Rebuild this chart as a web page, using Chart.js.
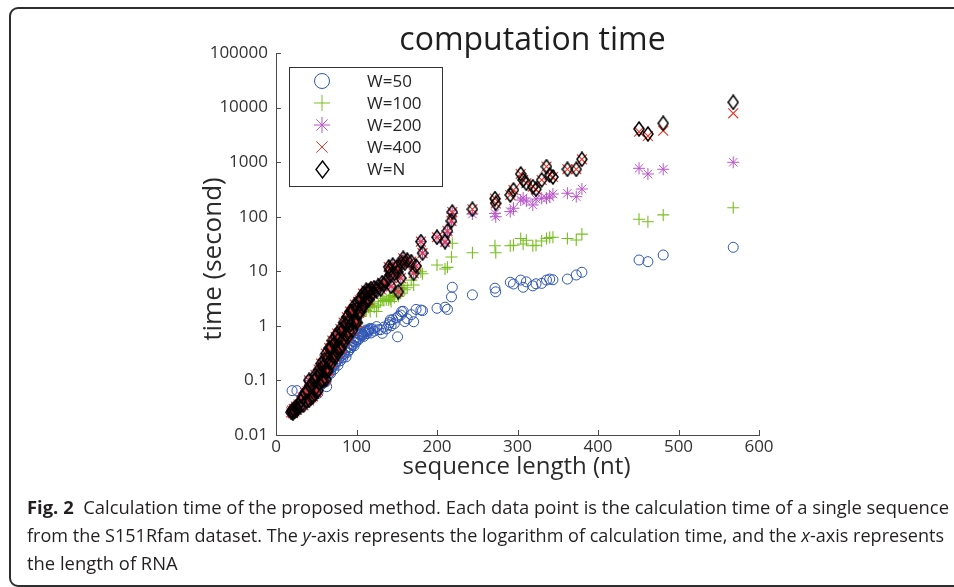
<!DOCTYPE html>
<html>
<head>
<meta charset="utf-8">
<script src="https://cdn.jsdelivr.net/npm/chart.js@4.4.0/dist/chart.umd.min.js"></script>
<style>
html,body{margin:0;padding:0;background:#fff;width:954px;height:587px;overflow:hidden;}
#frame{position:absolute;left:9px;top:7px;width:1000px;height:580px;border:2px solid #2e2e2e;border-radius:9px;box-sizing:border-box;}
#wrap{position:absolute;left:0;top:0;width:954px;height:587px;}
.cap{position:absolute;left:27px;white-space:nowrap;font-family:'Open Sans',sans-serif;font-size:18.5px;color:#231f20;transform-origin:0 0;line-height:28px;}
</style>
</head>
<body>
<div id="frame"></div>
<div id="wrap"><canvas id="c" width="954" height="587"></canvas></div>
<div class="cap" id="l1" style="top:493px"><b>Fig. 2</b>&nbsp; Calculation time of the proposed method. Each data point is the calculation time of a single sequence</div>
<div class="cap" id="l2" style="top:521px">from the S151Rfam dataset. The <i>y</i>-axis represents the logarithm of calculation time, and the <i>x</i>-axis represents</div>
<div class="cap" id="l3" style="top:549px">the length of RNA</div>
<script>
// ---- data (sequence length in nt, calculation time in seconds) ----
const lengths = [
  19,20,21,22,23,25,26,28,30,31,
  33,34,36,38,39,41,41,42,44,45,
  46,47,48,49,50,51,52,53,54,55,
  56,57,58,59,60,61,62,62,63,64,
  65,66,67,68,69,70,71,72,73,74,
  75,76,77,78,79,80,81,82,83,84,
  85,86,87,88,89,90,91,92,93,94,
  95,96,97,98,99,100,101,102,103,104,
  105,106,107,108,109,110,111,112,113,114,
  115,116,117,118,120,122,125,127,130,132,
  134,137,140,141,142,143,145,147,150,151,
  152,155,156,158,160,163,168,171,174,180,
  182,200,210,213,218,219,244,272,273,291,
  295,304,307,311,319,323,330,336,340,344,
  362,373,380,451,462,481,568
];
const timeW50 = [
  .026,.065,.025,.030,.027,.033,.065,.036,.033,.042,
  .049,.035,.059,.042,.063,.043,.10,.079,.049,.081,
  .051,.10,.068,.126,.060,.10,.058,.12,.08,.10,
  .13,.085,.12,.09,.14,.11,.095,.10,.077,.15,
  .13,.16,.14,.135,.17,.19,.18,.16,.21,.20,
  .22,.27,.19,.25,.30,.23,.28,.33,.26,.31,
  .30,.36,.27,.40,.33,.42,.36,.47,.40,.45,
  .44,.52,.43,.60,.50,.56,.62,.55,.70,.60,
  .68,.73,.66,.70,.64,.76,.80,.84,.72,.78,
  .82,.86,.90,.74,.88,.80,.97,.85,.85,.73,
  .95,.88,1.05,1.15,1.28,1.0,1.3,1.1,1.4,.63,
  1.5,1.58,1.82,1.85,1.2,1.35,1.6,1.19,2.0,1.95,
  1.9,2.1,2.2,2.0,3.4,5.1,3.7,4.9,4.2,6.3,
  5.85,6.9,5.1,6.4,5.4,5.9,6.0,6.9,7.2,7.0,
  7.2,8.55,9.6,16.1,15,19.9,27.5
];
const timeW100 = [
  .026,.028,.025,.030,.027,.033,.029,.036,.033,.042,
  .049,.035,.059,.042,.063,.043,.10,.079,.049,.081,
  .051,.10,.068,.126,.060,.115,.065,.158,.089,.135,
  .204,.098,.178,.10,.24,.151,.31,.105,.148,.25,
  .151,.39,.229,.39,.209,.537,.275,.468,.263,.63,
  .35,.72,.32,.575,.39,.87,.39,.81,.55,1.15,
  .51,1.07,.69,1.45,.62,1.17,.79,1.82,1.07,1.82,
  .83,1.95,1.17,2.45,1.15,2.04,1.1,1.6,1.5,1.7,
  1.5,1.6,1.9,2.0,1.8,2.1,2.2,1.9,2.3,2.4,
  2.2,2.5,1.83,2.3,2.6,2.2,1.83,2.4,2.77,3.2,
  2.9,3.0,2.98,3.4,3.1,2.8,3.6,3.3,4.2,3.8,
  3.5,3.95,4.9,5.5,4.6,5.0,6.9,5.6,9.8,9.8,
  9.0,13,11,11.8,18.3,32.6,21.9,29.4,21.9,29.4,
  30,40,31.6,37,29.4,30,35.9,40,41.6,42,
  40,37.5,48,89.7,81,108,146
];
const timeW200 = [
  .026,.028,.025,.030,.027,.033,.029,.036,.033,.042,
  .049,.035,.059,.042,.063,.043,.10,.079,.049,.081,
  .051,.10,.068,.126,.060,.115,.065,.158,.089,.135,
  .204,.098,.178,.10,.24,.151,.31,.105,.148,.25,
  .151,.39,.229,.39,.209,.537,.275,.468,.263,.63,
  .35,.72,.32,.575,.39,.87,.39,.81,.55,1.15,
  .51,1.07,.69,1.45,.62,1.17,.79,1.82,1.07,1.82,
  .83,1.95,1.17,2.45,1.15,2.04,1.15,2.75,1.74,2.95,
  1.82,3.1,2.19,3.9,2.34,3.63,2.82,4.47,2.95,4.37,
  3.0,4.3,3.6,4.8,3.9,5.0,4.4,5.4,4.7,6.2,
  5.8,6.5,12,10.5,8.5,5.3,13,9.0,12,9.8,
  4.2,7.5,14,17.3,14,16,15,9.2,12.5,35,
  21.5,42,33,52,80,115,112,115,100,124,
  143,202,220,194,164,211,218,218,230,261,
  269,233,322,771,607,740,994
];
const timeW400 = [
  .026,.028,.025,.030,.027,.033,.029,.036,.033,.042,
  .049,.035,.059,.042,.063,.043,.10,.079,.049,.081,
  .051,.10,.068,.126,.060,.115,.065,.158,.089,.135,
  .204,.098,.178,.10,.24,.151,.31,.105,.148,.25,
  .151,.39,.229,.39,.209,.537,.275,.468,.263,.63,
  .35,.72,.32,.575,.39,.87,.39,.81,.55,1.15,
  .51,1.07,.69,1.45,.62,1.17,.79,1.82,1.07,1.82,
  .83,1.95,1.17,2.45,1.15,2.04,1.15,2.75,1.74,2.95,
  1.82,3.1,2.19,3.9,2.34,3.63,2.82,4.47,2.95,4.37,
  3.0,4.3,3.6,4.8,3.9,5.0,4.4,5.4,4.7,6.2,
  5.8,6.5,12,10.5,8.5,5.3,13,9.0,12,9.8,
  4.2,7.5,14,17.3,14,16,15,9.2,12.5,35,
  21.5,42,35,55,84,122,137,214,176,250,
  309,607,471,410,355,318,471,826,582,535,
  740,740,1128,3610,3015,3770,7850
];
const timeWN = [
  .026,.028,.025,.030,.027,.033,.029,.036,.033,.042,
  .049,.035,.059,.042,.063,.043,.10,.079,.049,.081,
  .051,.10,.068,.126,.060,.115,.065,.158,.089,.135,
  .204,.098,.178,.10,.24,.151,.31,.105,.148,.25,
  .151,.39,.229,.39,.209,.537,.275,.468,.263,.63,
  .35,.72,.32,.575,.39,.87,.39,.81,.55,1.15,
  .51,1.07,.69,1.45,.62,1.17,.79,1.82,1.07,1.82,
  .83,1.95,1.17,2.45,1.15,2.04,1.15,2.75,1.74,2.95,
  1.82,3.1,2.19,3.9,2.34,3.63,2.82,4.47,2.95,4.37,
  3.0,4.3,3.6,4.8,3.9,5.0,4.4,5.4,4.7,6.2,
  5.8,6.5,12,10.5,8.5,5.3,13,9.0,12,9.8,
  4.2,7.5,14,17.3,14,16,15,9.2,12.5,35,
  21.5,42,35,55,84,122,137,214,176,250,
  309,607,471,410,355,318,471,826,582,535,
  740,740,1128,4050,3280,5150,12500
];
const seriesNames = ['W=50','W=100','W=200','W=400','W=N'];
const xTicks = [0,100,200,300,400,500,600];
const yTicks = [0.01,0.1,1,10,100,1000,10000,100000];
const yTickLabels = ['0.01','0.1','1','10','100','1000','10000','100000'];
const chartTitle = 'computation time';
const xTitle = 'sequence length (nt)';
const yTitle = 'time (second)';

// ---- chart ----
const FONT = "'Open Sans', sans-serif";
function pts(arr){ return lengths.map((L,i)=>({x:L, y:arr[i]})); }

// tall diamond marker (MATLAB style), drawn on a small canvas
function diamond(w, h, color, lw){
  const c = document.createElement('canvas');
  c.width = w; c.height = h;
  const g = c.getContext('2d');
  g.strokeStyle = color; g.lineWidth = lw;
  g.lineJoin = 'miter';
  g.beginPath();
  g.moveTo(w/2, 1); g.lineTo(w - 1, h/2); g.lineTo(w/2, h - 1); g.lineTo(1, h/2);
  g.closePath(); g.stroke();
  return c;
}
const styles = [
  {color:'#2f55b3', pointStyle:'circle',   radius:5,   bw:1,   legendStyle:'circle',   legendRadius:7.5, order:4},
  {color:'#78c01e', pointStyle:'cross',    radius:6,   bw:1.1, legendStyle:'cross',    legendRadius:8,   order:3},
  {color:'#b956c9', pointStyle:'star',     radius:6,   bw:1,   legendStyle:'star',     legendRadius:8,   order:2},
  {color:'#ee3328', pointStyle:'crossRot', radius:7,   bw:1.1, legendStyle:'crossRot', legendRadius:8,   order:1},
  {color:'#000000', pointStyle:diamond(12,16,'#000',1.5), radius:7, bw:1, legendStyle:diamond(15,19,'#000',1.4), legendRadius:8, order:0}
];
const seriesData = [timeW50, timeW100, timeW200, timeW400, timeWN];
const datasets = seriesData.map((arr,i)=>({
  label: seriesNames[i],
  data: pts(arr),
  showLine:false,
  pointStyle: styles[i].pointStyle,
  pointRadius: styles[i].radius,
  pointHoverRadius: styles[i].radius,
  pointBorderColor: styles[i].color,
  pointBackgroundColor: 'rgba(0,0,0,0)',
  pointBorderWidth: styles[i].bw,
  borderColor: styles[i].color,
  backgroundColor: 'rgba(0,0,0,0)',
  order: styles[i].order,
  legendStyle: styles[i].legendStyle,
  legendRadius: styles[i].legendRadius
}));

const inwardTicks = {
  id:'inwardTicks',
  afterDraw(chart){
    const {ctx, chartArea:a, scales} = chart;
    ctx.save();
    ctx.strokeStyle = '#4a4a4a';
    ctx.lineWidth = 1;
    ctx.beginPath();
    yTicks.forEach(v=>{
      const y = Math.round(scales.y.getPixelForValue(v)) + 0.5;
      ctx.moveTo(a.left, y); ctx.lineTo(a.left + 5, y);
    });
    xTicks.forEach(v=>{
      const x = Math.round(scales.x.getPixelForValue(v)) + 0.5;
      ctx.moveTo(x, a.bottom); ctx.lineTo(x, a.bottom - 5);
    });
    ctx.stroke();
    ctx.restore();
  }
};

const texts = {
  id:'texts',
  afterDraw(chart){
    const {ctx, chartArea:a} = chart;
    ctx.save();
    ctx.fillStyle = '#1e1e1e';
    ctx.textAlign = 'center';
    ctx.textBaseline = 'alphabetic';
    ctx.font = '32px ' + FONT;
    ctx.fillText(chartTitle, (a.left + a.right)/2 + 15, a.top - 3);
    ctx.fillStyle = '#2a2a2a';
    ctx.font = '24px ' + FONT;
    ctx.fillText(xTitle, (a.left + a.right)/2 - 1, a.bottom + 39);
    ctx.translate(a.left - 62, (a.top + a.bottom)/2 + 15);
    ctx.rotate(-Math.PI/2);
    ctx.font = '26px ' + FONT;
    ctx.textBaseline = 'middle';
    ctx.fillText(yTitle, 0, 0);
    ctx.restore();
  }
};

function drawMarker(ctx, style, r, x, y){
  if (Chart.helpers && Chart.helpers.drawPoint) {
    ctx.beginPath();
    Chart.helpers.drawPoint(ctx, {pointStyle:style, radius:r, rotation:0, borderWidth:1}, x, y);
  }
}

const boxLegend = {
  id:'boxLegend',
  afterDraw(chart){
    const {ctx, chartArea:a} = chart;
    const bx = a.left + 13, by = a.top + 14, bw = 153, bh = 119;
    ctx.save();
    ctx.fillStyle = '#fff';
    ctx.fillRect(bx, by, bw, bh);
    ctx.strokeStyle = '#333';
    ctx.lineWidth = 1;
    ctx.strokeRect(bx + 0.5, by + 0.5, bw, bh);
    chart.data.datasets.forEach((ds,i)=>{
      const cy = by + 14 + i*22;
      ctx.strokeStyle = ds.pointBorderColor;
      ctx.fillStyle = 'rgba(0,0,0,0)';
      ctx.lineWidth = 1;
      drawMarker(ctx, ds.legendStyle, ds.legendRadius, Math.round(bx + 33) + (typeof ds.legendStyle === 'string' ? 0 : 0.5), cy + (typeof ds.legendStyle === 'string' ? 0 : 0.5));
      ctx.fillStyle = '#262626';
      ctx.font = '17px ' + FONT;
      ctx.textAlign = 'left';
      ctx.textBaseline = 'middle';
      ctx.fillText(ds.label, bx + 78, cy + 1);
    });
    ctx.restore();
  }
};

new Chart(document.getElementById('c'), {
  type:'scatter',
  data:{datasets},
  options:{
    responsive:false,
    animation:false,
    devicePixelRatio:1,
    layout:{padding:{left:0, top:53, right:195, bottom:112}},
    plugins:{legend:{display:false}, title:{display:false}, tooltip:{enabled:false}},
    scales:{
      x:{
        type:'linear', min:0, max:600,
        afterFit(s){ s.height = 40; },
        afterBuildTicks(s){ s.ticks = xTicks.map(v=>({value:v})); },
        grid:{display:false, drawTicks:false},
        border:{display:true, color:'#4a4a4a', width:1},
        ticks:{color:'#333', font:{family:FONT, size:17}, padding:2, maxRotation:0, autoSkip:false,
               callback:(v)=>String(v)}
      },
      y:{
        type:'logarithmic', min:0.01, max:100000,
        afterFit(s){ s.width = 276; },
        afterBuildTicks(s){ s.ticks = yTicks.map(v=>({value:v})); },
        grid:{display:false, drawTicks:false},
        border:{display:true, color:'#4a4a4a', width:1},
        ticks:{color:'#333', font:{family:FONT, size:17}, padding:8, autoSkip:false,
               callback:(v,i)=>yTickLabels[i]}
      }
    }
  },
  plugins:[inwardTicks, texts, boxLegend]
});

function fitCaption(){
  const l1 = document.getElementById('l1'), l2 = document.getElementById('l2'), l3 = document.getElementById('l3');
  [l1,l2,l3].forEach(e=>e.style.transform='none');
  const s1 = 922 / l1.getBoundingClientRect().width;
  const s2 = 917 / l2.getBoundingClientRect().width;
  l1.style.transform = 'scaleX(' + s1 + ')';
  l2.style.transform = 'scaleX(' + s2 + ')';
  l3.style.transform = 'scaleX(' + s1 + ')';
}
fitCaption();
if (document.fonts && document.fonts.ready) document.fonts.ready.then(fitCaption);
</script>
</body>
</html>
